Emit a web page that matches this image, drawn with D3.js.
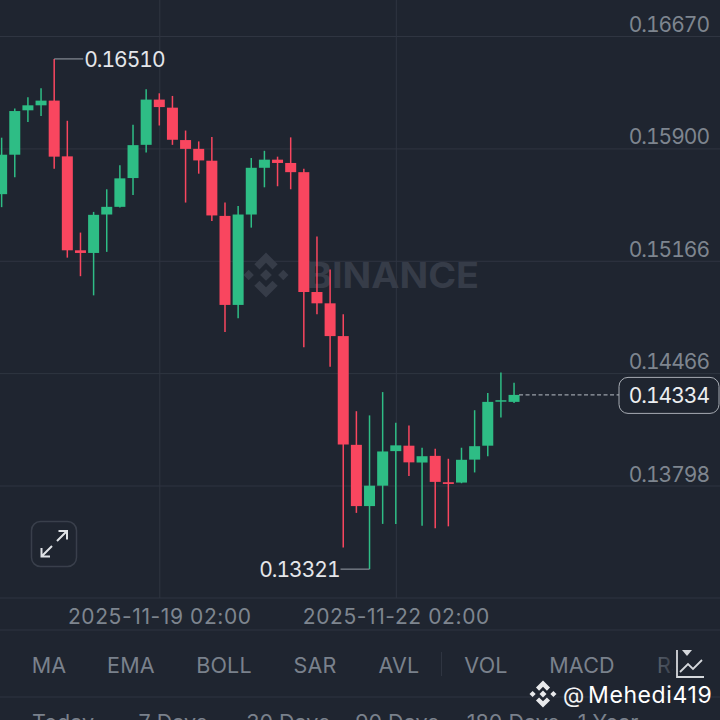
<!DOCTYPE html>
<html>
<head>
<meta charset="utf-8">
<script src="https://cdn.jsdelivr.net/npm/d3@7"></script>
<style>
html, body { margin: 0; padding: 0; background: #1f2530; overflow: hidden; }
svg { display: block; }
text { font-family: "Inter", sans-serif; }
.price { font-variant-numeric: tabular-nums; font-feature-settings: "tnum"; }
</style>
</head>
<body>
<div id="chart"></div>
<script>
"use strict";
// 4h candles
const times = [
  "2025-11-17T02:00Z","2025-11-17T06:00Z","2025-11-17T10:00Z","2025-11-17T14:00Z","2025-11-17T18:00Z","2025-11-17T22:00Z",
  "2025-11-18T02:00Z","2025-11-18T06:00Z","2025-11-18T10:00Z","2025-11-18T14:00Z","2025-11-18T18:00Z","2025-11-18T22:00Z",
  "2025-11-19T02:00Z","2025-11-19T06:00Z","2025-11-19T10:00Z","2025-11-19T14:00Z","2025-11-19T18:00Z","2025-11-19T22:00Z",
  "2025-11-20T02:00Z","2025-11-20T06:00Z","2025-11-20T10:00Z","2025-11-20T14:00Z","2025-11-20T18:00Z","2025-11-20T22:00Z",
  "2025-11-21T02:00Z","2025-11-21T06:00Z","2025-11-21T10:00Z","2025-11-21T14:00Z","2025-11-21T18:00Z","2025-11-21T22:00Z",
  "2025-11-22T02:00Z","2025-11-22T06:00Z","2025-11-22T10:00Z","2025-11-22T14:00Z","2025-11-22T18:00Z","2025-11-22T22:00Z",
  "2025-11-23T02:00Z","2025-11-23T06:00Z","2025-11-23T10:00Z","2025-11-23T14:00Z"
];
const opens = [.15597,.15858,.16157,.16191,.16223,.15847,.15233,.15216,.15464,.15514,.15703,.15924,
  .16230,.16175,.15956,.15897,.15818,.15455,.14887,.15464,.15771,.15825,.15803,.15742,
  .14968,.14897,.14693,.14036,.13679,.13797,.13999,.14031,.13932,.13971,.13817,.13815,
  .13949,.14031,.14294,.14292];
const highs = [.15972,.16170,.16246,.16307,.16510,.16086,.15347,.15481,.15629,.15788,.16059,.16300,
  .16273,.16255,.16020,.15947,.15977,.15542,.15520,.15836,.15884,.15845,.15974,.15764,
  .15321,.15110,.14828,.14236,.14211,.14351,.14167,.14151,.14019,.14013,.13954,.14019,
  .14242,.14345,.14470,.14408];
const lows = [.15512,.15708,.16077,.16118,.15764,.15186,.15068,.14947,.15223,.15510,.15592,.15873,
  .16054,.15924,.15542,.15732,.15422,.14718,.14803,.15379,.15642,.15649,.15629,.14624,
  .14828,.14505,.13443,.13640,.13321,.13577,.13577,.13853,.13567,.13552,.13563,.13811,
  .13874,.13969,.14199,.14286];
const closes = [.15858,.16152,.16191,.16223,.15845,.15233,.15216,.15462,.15514,.15701,.15922,.16230,
  .16179,.15958,.15897,.15820,.15458,.14887,.15464,.15771,.15825,.15803,.15742,.14968,
  .14897,.14693,.14038,.13679,.13797,.13997,.14033,.13933,.13969,.13819,.13807,.13948,
  .14028,.14292,.14302,.14334];
const priceTicks = [.16670,.15900,.15166,.14466,.13798];
const dateTicks = ["2025-11-19T02:00Z","2025-11-22T02:00Z"];
const lastPrice = .14334, maxPrice = .16510, minPrice = .13321;
const indicators = ["MA","EMA","BOLL","SAR","AVL","VOL","MACD","RSI"];
const indicatorX = [49,131,224,315,399,486,582,674];
const ranges = ["Today","7 Days","30 Days","90 Days","180 Days","1 Year"];
const rangeX = [63,173,288,397,513,608];

const W = 720, H = 720;
const BG = "#1f2530", GRID = "#2f3541", RED = "#f9465f", GREEN = "#2ebd85", AXIS = "#7e858f", MENU = "#7a818c";
const numSize = 21, numSpacing = .6, priceSpacing = -1;

const svg = d3.select("#chart").append("svg").attr("width", W).attr("height", H);
const parse = d3.isoParse;
const x = d3.scaleUtc().domain([parse(dateTicks[0]), parse(dateTicks[1])]).range([159.3, 395.8]);
const y = d3.scaleLog().domain([priceTicks[0], priceTicks[4]]).range([36, 485.5]);
const bodyW = 11, chartBottom = 598;

// grid
const gridH = svg.append("g").attr("class","grid").call(
  d3.axisRight(y).tickValues(priceTicks).tickSize(W).tickFormat(""));
gridH.select(".domain").remove();
gridH.selectAll("line").attr("stroke", GRID).attr("stroke-width", 1);
const gridV = svg.append("g").attr("class","grid").call(
  d3.axisBottom(x).tickValues(dateTicks.map(parse)).tickSize(chartBottom).tickFormat(""));
gridV.select(".domain").remove();
gridV.selectAll("line").attr("stroke", GRID).attr("stroke-width", 1);

// panel separators
svg.selectAll(".sep").data([chartBottom, 630, 697]).join("line").attr("class","sep")
  .attr("x1",0).attr("x2",W).attr("y1",d=>d).attr("y2",d=>d)
  .attr("stroke", GRID).attr("stroke-width", 1);

// binance logo, unit box -1..1
function logo(g, cx, cy, r, fill) {
  const parts = [
    "M0,-.26 L.26,0 L0,.26 L-.26,0 Z",
    "M-.77,-.23 L-.54,0 L-.77,.23 L-1,0 Z",
    "M.77,-.23 L1,0 L.77,.23 L.54,0 Z",
    "M0,-1 L.52,-.48 L.29,-.25 L0,-.54 L-.29,-.25 L-.52,-.48 Z",
    "M0,1 L.52,.48 L.29,.25 L0,.54 L-.29,.25 L-.52,.48 Z"
  ];
  g.append("g").attr("transform",`translate(${cx},${cy}) scale(${r})`)
    .selectAll("path").data(parts).join("path").attr("d",d=>d).attr("fill",fill);
}

// watermark
logo(svg, 266, 275, 22.5, "#363c48");
svg.append("text").attr("x",307).attr("y",288).attr("font-size",35).attr("font-weight",700)
  .attr("textLength",172).attr("lengthAdjust","spacingAndGlyphs")
  .attr("fill","#363c48").text("BINANCE");

// candles
const candles = times.map((t,i)=>({t:parse(t),o:opens[i],h:highs[i],l:lows[i],c:closes[i]}));
const cG = svg.append("g").selectAll("g").data(candles).join("g")
  .attr("fill",d=>d.c>=d.o?GREEN:RED).attr("stroke",d=>d.c>=d.o?GREEN:RED);
cG.append("line").attr("x1",d=>x(d.t)).attr("x2",d=>x(d.t))
  .attr("y1",d=>y(d.h)).attr("y2",d=>y(d.l)).attr("stroke-width",1.5);
cG.append("rect").attr("x",d=>x(d.t)-bodyW/2).attr("width",bodyW)
  .attr("y",d=>y(Math.max(d.o,d.c))).attr("height",d=>Math.max(1.5,Math.abs(y(d.o)-y(d.c))))
  .attr("stroke","none");

// price axis
const yAxis = svg.append("g").attr("transform",`translate(709,0)`).call(
  d3.axisLeft(y).tickValues(priceTicks).tickSize(0).tickPadding(0).tickFormat(d3.format(".5f")));
yAxis.select(".domain").remove();
yAxis.selectAll("text").attr("class","price").attr("dy",-11+6.5).attr("font-size",numSize)
  .attr("letter-spacing",priceSpacing).attr("fill",AXIS).attr("font-family","Inter");

// time axis
const xAxis = svg.append("g").attr("transform",`translate(0,${chartBottom})`).call(
  d3.axisBottom(x).tickValues(dateTicks.map(parse)).tickSize(0).tickPadding(0)
    .tickFormat(d3.utcFormat("%Y-%m-%d %H:%M")));
xAxis.select(".domain").remove();
xAxis.selectAll("text").attr("y",26).attr("dy",0).attr("font-size",numSize).attr("letter-spacing",numSpacing)
  .attr("fill",AXIS).attr("font-family","Inter");

// high/low callouts
const f5 = d3.format(".5f");
const maxT = parse(times[4]), minT = parse(times[28]);
svg.append("path").attr("fill","none").attr("stroke","#9aa0a8").attr("stroke-width",1)
  .attr("d",`M${x(maxT)},${y(maxPrice)} H${x(maxT)+29}`);
svg.append("text").attr("class","price").attr("x",x(maxT)+30).attr("y",y(maxPrice)+8).attr("font-size",numSize)
  .attr("letter-spacing",priceSpacing).attr("fill","#e4e6ea").text(f5(maxPrice));
svg.append("path").attr("fill","none").attr("stroke","#9aa0a8").attr("stroke-width",1)
  .attr("d",`M${x(minT)},${y(minPrice)} H${x(minT)-29}`);
svg.append("text").attr("class","price").attr("x",x(minT)-30).attr("y",y(minPrice)+8).attr("font-size",numSize)
  .attr("letter-spacing",priceSpacing).attr("text-anchor","end").attr("fill","#e4e6ea").text(f5(minPrice));

// last price
const lastX = x(parse(times[39]));
svg.append("line").attr("x1",lastX+5).attr("x2",619).attr("y1",y(lastPrice)).attr("y2",y(lastPrice))
  .attr("stroke","#9aa0a8").attr("stroke-width",1.3).attr("stroke-dasharray","4 2.5");
svg.append("rect").attr("x",619).attr("y",y(lastPrice)-17.5).attr("width",100).attr("height",36).attr("rx",9)
  .attr("fill",BG).attr("stroke","#a7acb3").attr("stroke-width",1);
svg.append("text").attr("class","price").attr("x",709).attr("y",y(lastPrice)+8).attr("text-anchor","end").attr("font-size",numSize)
  .attr("letter-spacing",priceSpacing).attr("fill","#eceef0").text(f5(lastPrice));

// expand button
svg.append("rect").attr("x",31.5).attr("y",521.5).attr("width",45).attr("height",45).attr("rx",9)
  .attr("fill",BG).attr("stroke","#393f4b").attr("stroke-width",1.5);
svg.append("path").attr("fill","none").attr("stroke","#dfe2e6").attr("stroke-width",2)
  .attr("d","M41.5,556.5 L52,546 M57,541 L67,531 M58.5,531 H67 V539.5 M41.5,548 V556.5 H50");

// indicator row
svg.selectAll(".ind").data(indicators).join("text").attr("class","ind")
  .attr("x",(d,i)=>indicatorX[i]).attr("y",673).attr("text-anchor","middle")
  .attr("font-size",21.5).attr("letter-spacing",.2).attr("fill",MENU).text(d=>d);
svg.append("line").attr("x1",441.5).attr("x2",441.5).attr("y1",652).attr("y2",676)
  .attr("stroke",GRID).attr("stroke-width",1);
const fade = svg.append("defs").append("linearGradient").attr("id","fade");
fade.append("stop").attr("offset",0).attr("stop-color",BG).attr("stop-opacity",0);
fade.append("stop").attr("offset",.2).attr("stop-color",BG).attr("stop-opacity",.35);
fade.append("stop").attr("offset",.4).attr("stop-color",BG).attr("stop-opacity",.7);
fade.append("stop").attr("offset",.41).attr("stop-color",BG).attr("stop-opacity",1);
svg.append("rect").attr("x",640).attr("y",645).attr("width",80).attr("height",45).attr("fill","url(#fade)");

// chart settings icon
svg.append("path").attr("fill","none").attr("stroke","#d5d8dc").attr("stroke-width",1.8)
  .attr("d","M677,650 V677 H704 M680,672 L688,664 L693,669 L702,660");
svg.append("path").attr("fill","#d5d8dc").attr("d","M682,650 H692 L687,656 Z");

// range row, cut by the window edge
svg.selectAll(".rng").data(ranges).join("text").attr("class","rng")
  .attr("x",(d,i)=>rangeX[i]).attr("y",730).attr("text-anchor","middle")
  .attr("font-size",21.5).attr("fill",MENU).text(d=>d);

// author tag
logo(svg, 543, 694, 13.5, "#e8e9eb");
svg.append("text").attr("x",563).attr("y",703).attr("font-size",22).attr("fill","#f2f3f4")
  .attr("font-family","Noto Sans").text("@");
svg.append("text").attr("x",588).attr("y",703).attr("font-size",23).attr("letter-spacing",.6).attr("fill","#ffffff")
  .attr("font-family","Noto Sans").text("Mehedi419");
</script>
</body>
</html>
